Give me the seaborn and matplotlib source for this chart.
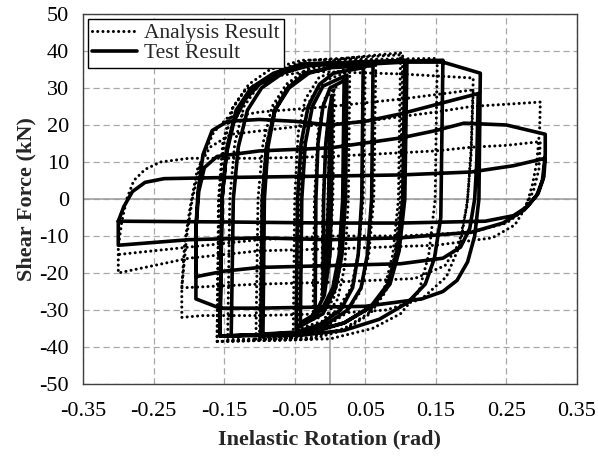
import numpy as np
import pandas as pd
import matplotlib
matplotlib.use("Agg")
import matplotlib.pyplot as plt
from matplotlib.lines import Line2D
import seaborn as sns

# ---------------- data ----------------
x_ticks = [-0.35, -0.25, -0.15, -0.05, 0.05, 0.15, 0.25, 0.35]
x_tick_labels = ["-0.35", "-0.25", "-0.15", "-0.05", "0.05", "0.15", "0.25", "0.35"]
y_ticks = [-50, -40, -30, -20, -10, 0, 10, 20, 30, 40, 50]
series_names = ["Analysis Result", "Test Result"]

# Test result: loading history (inelastic rotation [rad], shear force [kN])
test_path = [
    (0.0, 0), (0.0, 22),
    (-0.002, 0), (-0.005, -15), (-0.01, -25),
    (-0.009, 0), (-0.006, 15), (-0.001, 24), (0.003, 28),
    (0.002, 0), (0.0, -15), (-0.008, -26), (-0.021, -31),
    (-0.02, 0), (-0.017, 15), (-0.01, 25), (0.0, 30), (0.02, 32),
    (0.018, 0), (0.013, -15), (0.004, -24), (-0.012, -30), (-0.042, -33.5),
    (-0.04, 0), (-0.035, 15), (-0.025, 25), (-0.01, 30.5), (0.024, 33.5),
    (0.022, 0), (0.017, -15), (0.008, -24), (-0.01, -31), (-0.048, -35),
    (-0.046, 0), (-0.041, 15), (-0.031, 25), (-0.015, 31), (0.005, 34), (0.047, 35.5),
    (0.045, 0), (0.04, -15), (0.032, -24), (0.015, -30), (-0.015, -34), (-0.05, -36),
    (-0.095, -36.5),
    (-0.093, 0), (-0.088, 14), (-0.078, 24), (-0.06, 30), (-0.035, 34), (0.0, 35.5), (0.061, 36),
    (0.059, 0), (0.053, -15), (0.044, -24), (0.025, -30), (-0.01, -34.5), (-0.05, -36.5),
    (-0.098, -37),
    (-0.096, 0), (-0.09, 14), (-0.078, 24), (-0.058, 30), (-0.03, 34), (0.01, 36), (0.106, 37),
    (0.103, 0), (0.095, -14), (0.082, -23), (0.058, -29), (0.02, -33.5), (-0.03, -36),
    (-0.14, -37),
    (-0.137, 0), (-0.13, 14), (-0.117, 24), (-0.097, 30), (-0.067, 34), (-0.03, 36.5),
    (0.109, 37.5),
    (0.106, 0), (0.098, -14), (0.085, -23), (0.06, -29), (0.02, -33.5), (-0.03, -36.3),
    (-0.156, -37),
    (-0.153, 0), (-0.146, 14), (-0.133, 24), (-0.112, 30), (-0.08, 34), (-0.04, 36.5),
    (0.16, 37.5),
    (0.157, -5), (0.148, -16), (0.135, -23), (0.11, -28), (0.07, -32.5), (0.02, -35.5),
    (-0.04, -36.8), (-0.156, -37),
    (-0.153, 0), (-0.147, 12), (-0.136, 21), (-0.12, 27), (-0.1, 31), (-0.07, 34), (-0.03, 36),
    (0.05, 37), (0.16, 37), (0.213, 34),
    (0.211, 0), (0.205, -10), (0.195, -17), (0.18, -22), (0.16, -25), (0.13, -27), (0.05, -29),
    (-0.1, -29.5), (-0.156, -29.5), (-0.19, -27),
    (-0.19, -8), (-0.187, 2), (-0.18, 12), (-0.167, 18.5), (-0.145, 21), (-0.1, 21.5),
    (-0.05, 21), (0.0, 20), (0.05, 21), (0.1, 23), (0.15, 25.5), (0.21, 28.5),
    (0.208, 10), (0.205, 0), (0.198, -8), (0.185, -13), (0.16, -16), (0.1, -17.5), (0.0, -18),
    (-0.1, -18.5), (-0.15, -19.5), (-0.19, -21),
    (-0.19, -8), (-0.186, 2), (-0.178, 8.5), (-0.16, 11.5), (-0.1, 13), (0.0, 13.8), (0.1, 16.5),
    (0.15, 18.5), (0.19, 20.5), (0.25, 20), (0.305, 17.5),
    (0.305, 12), (0.301, 5), (0.293, 1), (0.275, -3), (0.245, -6.5), (0.2, -9), (0.1, -10.5),
    (0.0, -11), (-0.1, -10.5), (-0.2, -11), (-0.3, -12.5),
    (-0.3, -6), (-0.292, -2), (-0.28, 2), (-0.262, 4.5), (-0.235, 5.5), (-0.15, 5.8), (0.0, 6.2),
    (0.1, 6.5), (0.2, 7.3), (0.26, 9), (0.305, 11),
    (0.303, 6), (0.295, 1.5), (0.28, -2), (0.26, -4.5), (0.22, -6), (0.1, -6.5), (0.0, -6.5),
    (-0.15, -6.2), (-0.3, -6),
]

# Analysis result: loading history
ana_path = [
    (0.0, 0), (0.0, 24),
    (-0.003, 0), (-0.007, -18), (-0.012, -27),
    (-0.01, 0), (-0.005, 18), (0.006, 30),
    (0.004, 0), (-0.001, -18), (-0.01, -27), (-0.024, -31),
    (-0.022, 0), (-0.017, 18), (-0.008, 27), (0.022, 33),
    (0.02, 0), (0.015, -18), (0.005, -27), (-0.015, -32), (-0.045, -34),
    (-0.043, 0), (-0.038, 18), (-0.028, 27), (-0.008, 32), (0.028, 34.5),
    (0.026, 0), (0.021, -18), (0.011, -27), (-0.01, -33), (-0.052, -35.5),
    (-0.05, 0), (-0.045, 18), (-0.035, 27), (-0.015, 33), (0.05, 36.5),
    (0.047, 0), (0.04, -15), (0.03, -24), (0.01, -30), (-0.02, -34.5), (-0.055, -37),
    (-0.1, -37.5),
    (-0.097, 0), (-0.09, 15), (-0.078, 25), (-0.058, 31), (-0.03, 35), (0.01, 37), (0.065, 37.5),
    (0.062, 0), (0.055, -15), (0.043, -25), (0.022, -31), (-0.01, -35), (-0.05, -37.5),
    (-0.105, -38),
    (-0.102, 0), (-0.095, 15), (-0.082, 25), (-0.062, 31), (-0.03, 35.5), (0.02, 38),
    (0.07, 39), (0.1, 39.5),
    (0.097, 0), (0.089, -15), (0.076, -25), (0.054, -31), (0.02, -35), (-0.03, -37.5),
    (-0.145, -38),
    (-0.142, 0), (-0.135, 15), (-0.122, 25), (-0.1, 31), (-0.07, 35), (-0.03, 37.5), (0.103, 39),
    (0.1, 0), (0.092, -15), (0.079, -25), (0.057, -31), (0.02, -35.5), (-0.03, -38),
    (-0.16, -38.5),
    (-0.157, 0), (-0.15, 15), (-0.137, 25), (-0.115, 31), (-0.085, 35), (-0.04, 37.5),
    (0.152, 38),
    (0.149, 0), (0.14, -15), (0.126, -25), (0.1, -31), (0.06, -35), (0.0, -37.8), (-0.16, -38.5),
    (-0.158, 0), (-0.152, 15), (-0.14, 24), (-0.12, 29.5), (-0.085, 33), (-0.03, 34.5),
    (0.1, 33.8), (0.203, 32.7),
    (0.2, 14), (0.195, 0), (0.185, -12), (0.165, -21), (0.13, -27), (0.08, -30), (0.0, -31),
    (-0.1, -31.5), (-0.18, -31.5), (-0.21, -32),
    (-0.21, -24), (-0.203, -10), (-0.195, 0), (-0.183, 10), (-0.165, 18), (-0.145, 22),
    (-0.1, 23.5), (0.0, 25), (0.1, 27), (0.203, 29.5),
    (0.2, 12), (0.194, -2), (0.183, -12), (0.163, -18), (0.12, -21.5), (0.0, -22.5),
    (-0.1, -23), (-0.21, -24),
    (-0.206, -12), (-0.198, -2), (-0.188, 8), (-0.17, 14), (-0.14, 17.5), (-0.05, 19.5),
    (0.05, 21), (0.15, 23.5), (0.2, 25), (0.298, 26.2),
    (0.297, 18.5), (0.293, 10), (0.287, 4), (0.278, -2), (0.262, -7), (0.23, -10.5),
    (0.15, -12.5), (0.0, -13.5), (-0.1, -14), (-0.2, -16), (-0.25, -18), (-0.3, -20),
    (-0.3, -13), (-0.295, -6), (-0.288, 0), (-0.278, 5), (-0.262, 8), (-0.24, 10), (-0.2, 11),
    (-0.1, 11), (0.0, 11.5), (0.1, 12.5), (0.15, 13), (0.2, 14), (0.25, 14.5), (0.298, 15.5),
    (0.296, 8), (0.288, 2), (0.272, -3.5), (0.25, -6.5), (0.2, -9), (0.1, -10), (0.0, -10),
    (-0.1, -11), (-0.2, -13), (-0.3, -15),
]

df_test = pd.DataFrame(test_path, columns=["rot", "force"])
df_test["step"] = np.arange(len(df_test))
df_ana = pd.DataFrame(ana_path, columns=["rot", "force"])
df_ana["step"] = np.arange(len(df_ana))

# ---------------- figure ----------------
sns.set_style("white")
plt.rcParams["font.family"] = ["Liberation Serif", "DejaVu Serif"]
plt.rcParams["axes.unicode_minus"] = False

fig = plt.figure(figsize=(5.98, 4.59), dpi=100)
ax = fig.add_axes([83 / 598, 1 - 384 / 459, 494 / 598, 370 / 459])

grid_color = "#a8a8a8"
for xv in x_ticks:
    ax.axvline(xv, color=grid_color, lw=0.9, ls=(0, (5, 3)), zorder=0)
for yv in y_ticks:
    ax.axhline(yv, color=grid_color, lw=0.9, ls=(0, (5, 3)), zorder=0)
ax.axhline(0, color="#9a9a9a", lw=1.1, zorder=0.5)
ax.axvline(0, color="#9a9a9a", lw=1.1, zorder=0.5)

sns.lineplot(data=df_ana, x="rot", y="force", estimator=None, sort=False,
             color="black", linewidth=2.2, linestyle=(0, (0.01, 1.7)),
             dash_capstyle="round", ax=ax, legend=False, zorder=2)
sns.lineplot(data=df_test, x="rot", y="force", estimator=None, sort=False,
             color="black", linewidth=2.6, solid_joinstyle="round",
             ax=ax, legend=False, zorder=3)

ax.set_xlim(-0.35, 0.35)
ax.set_ylim(-50, 50)
ax.set_xticks(x_ticks)
ax.set_xticklabels(x_tick_labels)
ax.set_yticks(y_ticks)
ax.set_yticklabels([str(v) for v in y_ticks])
ax.tick_params(axis="both", length=0, labelsize=16, colors="black")
ax.tick_params(axis="x", pad=13)
ax.tick_params(axis="y", pad=10)

for side in ["left", "bottom", "right", "top"]:
    ax.spines[side].set_color("#404040")
    ax.spines[side].set_linewidth(1.0)

ax.set_xlabel("Inelastic Rotation (rad)", fontsize=16, fontweight="bold", labelpad=6)
ax.set_ylabel("Shear Force (kN)", fontsize=16, fontweight="bold", labelpad=2)

handles = [
    Line2D([0], [0], color="black", lw=2.2, ls=(0, (0.01, 1.7)), dash_capstyle="round"),
    Line2D([0], [0], color="black", lw=2.6),
]
leg = ax.legend(handles, series_names, loc="upper left", bbox_to_anchor=(0.01, 0.987),
                borderaxespad=0, fontsize=15.5, handlelength=2.1, handletextpad=0.3,
                borderpad=0.2, labelspacing=0.0, fancybox=False, framealpha=1,
                edgecolor="black")
leg.get_frame().set_linewidth(1.0)

fig.savefig("out.png", dpi=100)
